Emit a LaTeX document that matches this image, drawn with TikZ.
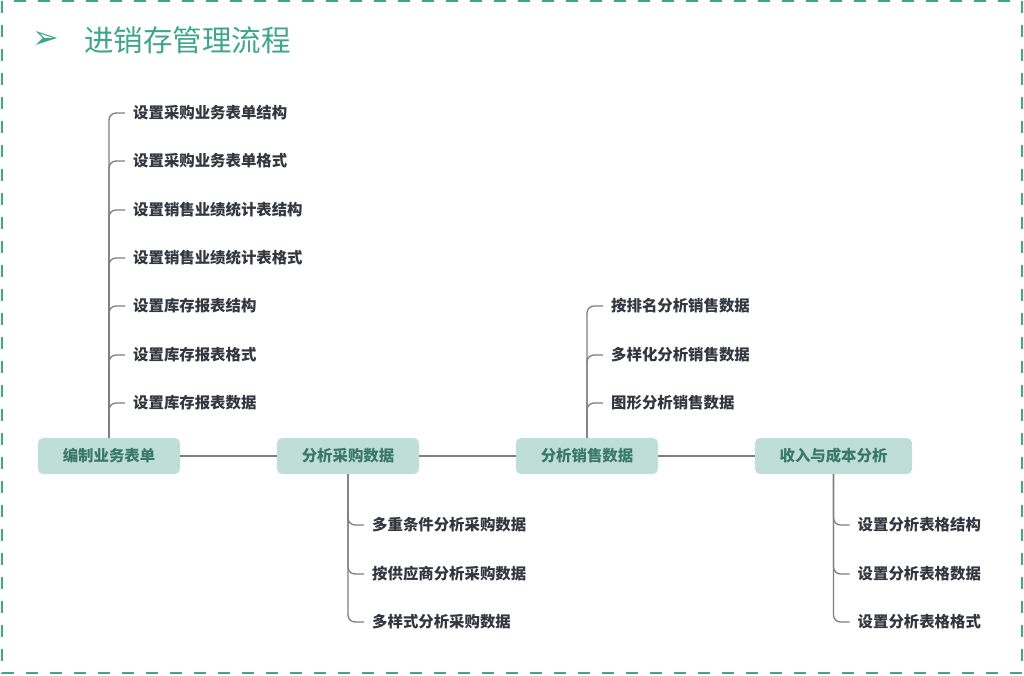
\documentclass[tikz,border=0pt]{standalone}
\usepackage{fontspec}
\setmainfont{Noto Sans CJK SC}
\newfontfamily\symfont{DejaVu Sans}
\definecolor{teal1}{RGB}{64,166,138}
\definecolor{boxfill}{RGB}{190,222,215}
\definecolor{boxtext}{RGB}{58,120,106}
\definecolor{labtext}{RGB}{52,54,64}
\definecolor{linegray}{RGB}{125,125,132}
\begin{document}
\begin{tikzpicture}[x=1pt,y=-1pt,
  mainbox/.style={fill=boxfill,rounded corners=5pt,minimum height=36pt,inner sep=0pt,
    font=\fontsize{15.4}{18}\selectfont\bfseries,text=boxtext},
  leaf/.style={anchor=west,inner xsep=8pt,inner ysep=2pt,
    font=\fontsize{15.4}{18}\selectfont\bfseries,text=labtext},
  trunk/.style={draw=linegray,line width=1.3pt},
  branch/.style={draw=linegray,line width=1.3pt,rounded corners=7pt}]
\useasboundingbox (0,0) rectangle (1024,675);
\draw[teal1,line width=2pt,dash pattern=on 12pt off 12pt] (2,1) rectangle (1022,673);
% title
\node[text=teal1,font=\symfont\fontsize{32}{36}\selectfont,inner sep=0pt] (arrow) at (46,40) {➢};
\node[anchor=west,inner sep=0pt,text=teal1,font=\fontsize{29.5}{34}\selectfont] (title) at (84,40) {进销存管理流程};
% main boxes
\node[mainbox,minimum width=142pt] (b1) at (109,456) {编制业务表单};
\node[mainbox,minimum width=142pt] (b2) at (348,456) {分析采购数据};
\node[mainbox,minimum width=142pt] (b3) at (587,456) {分析销售数据};
\node[mainbox,minimum width=157pt] (b4) at (833.5,456) {收入与成本分析};
\draw[trunk] (b1) -- (b2);
\draw[trunk] (b2) -- (b3);
\draw[trunk] (b3) -- (b4);
% leaves of b1
\node[leaf] (a1) at (125,113) {设置采购业务表单结构};
\node[leaf] (a2) at (125,161) {设置采购业务表单格式};
\node[leaf] (a3) at (125,210) {设置销售业绩统计表结构};
\node[leaf] (a4) at (125,258) {设置销售业绩统计表格式};
\node[leaf] (a5) at (125,306) {设置库存报表结构};
\node[leaf] (a6) at (125,355) {设置库存报表格式};
\node[leaf] (a7) at (125,403) {设置库存报表数据};
\foreach \n in {a1,a2,a3,a4,a5,a6,a7} \draw[branch] (b1.north) |- (\n.west);
% leaves of b2
\node[leaf] (c1) at (364,525) {多重条件分析采购数据};
\node[leaf] (c2) at (364,574) {按供应商分析采购数据};
\node[leaf] (c3) at (364,622) {多样式分析采购数据};
\foreach \n in {c1,c2,c3} \draw[branch] (b2.south) |- (\n.west);
% leaves of b3
\node[leaf] (d1) at (603,306) {按排名分析销售数据};
\node[leaf] (d2) at (603,355) {多样化分析销售数据};
\node[leaf] (d3) at (603,403) {图形分析销售数据};
\foreach \n in {d1,d2,d3} \draw[branch] (b3.north) |- (\n.west);
% leaves of b4
\node[leaf] (e1) at (849.5,525) {设置分析表格结构};
\node[leaf] (e2) at (849.5,574) {设置分析表格数据};
\node[leaf] (e3) at (849.5,622) {设置分析表格格式};
\foreach \n in {e1,e2,e3} \draw[branch] (b4.south) |- (\n.west);
\end{tikzpicture}
\end{document}
